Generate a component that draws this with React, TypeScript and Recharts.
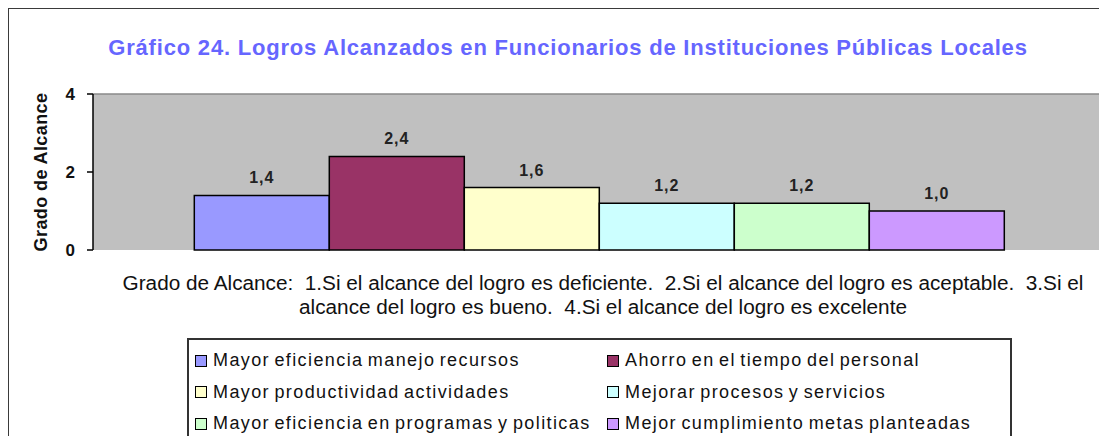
import { Bar, BarChart, CartesianGrid, LabelList, ReferenceLine, XAxis, YAxis } from "recharts";

const categories = ["Logros"];
const seriesNames = [
  "Mayor eficiencia manejo recursos",
  "Ahorro en el tiempo del personal",
  "Mayor productividad actividades",
  "Mejorar procesos y servicios",
  "Mayor eficiencia en programas y politicas",
  "Mejor cumplimiento metas planteadas",
];
const seriesValues = [1.4, 2.4, 1.6, 1.2, 1.2, 1.0];
const seriesColors = ["#9999FF", "#993366", "#FFFFCC", "#CCFFFF", "#CCFFCC", "#CC99FF"];
const yTicks = [0, 2, 4];

const title = "Gráfico 24. Logros Alcanzados en Funcionarios de Instituciones Públicas Locales";
const captionLines = [
  "Grado de Alcance:  1.Si el alcance del logro es deficiente.  2.Si el alcance del logro es aceptable.  3.Si el",
  "alcance del logro es bueno.  4.Si el alcance del logro es excelente",
];

const FONT = "'Liberation Sans', Arial, sans-serif";

const data = categories.map((name) => {
  const row: Record<string, string | number> = { name };
  seriesValues.forEach((v, i) => {
    row["s" + i] = v;
  });
  return row;
});

const fmt = (v: unknown) => Number(v).toFixed(1).replace(".", ",");

function AxisTitle(props: any) {
  const { viewBox } = props;
  const cx = 33;
  const cy = viewBox.y + viewBox.height / 2;
  return (
    <text
      x={cx}
      y={cy}
      transform={`rotate(-90 ${cx} ${cy})`}
      textAnchor="middle"
      dominantBaseline="central"
      fontFamily={FONT}
      fontSize={18}
      fontWeight="bold"
      letterSpacing={0.4}
      fill="#111"
    >
      Grado de Alcance
    </text>
  );
}

export default function App() {
  return (
    <div style={{ position: "relative", width: 1099, height: 428, overflow: "hidden", fontFamily: FONT }}>
      <div
        style={{
          position: "absolute",
          left: -1,
          top: -1,
          width: 1200,
          height: 600,
          border: "2px solid #3a3a3a",
        }}
      />
      <div
        style={{
          position: "absolute",
          left: 0,
          top: 27,
          width: 1120,
          textAlign: "center",
          color: "#6666FF",
          fontSize: 22,
          letterSpacing: 0.8,
          fontWeight: "bold",
          lineHeight: "26px",
        }}
      >
        {title}
      </div>
      <div style={{ position: "absolute", left: 0, top: 0 }}>
        <BarChart
          width={1099}
          height={428}
          data={data}
          margin={{ top: 86, right: 1, left: 0, bottom: 186 }}
          barGap={0}
          barCategoryGap="10%"
        >
          <CartesianGrid horizontal={false} vertical={false} fill="#C0C0C0" />
          <XAxis dataKey="name" height={0} tick={false} tickLine={false} axisLine={{ stroke: "#000", strokeWidth: 1.5 }} />
          <YAxis
            width={85}
            domain={[0, 4]}
            ticks={yTicks}
            tickSize={6}
            tickMargin={12}
            axisLine={{ stroke: "#000", strokeWidth: 1.5 }}
            tickLine={{ stroke: "#000", strokeWidth: 1.5 }}
            tick={{ fontSize: 17, fontWeight: "bold", fill: "#111", fontFamily: FONT }}
            label={<AxisTitle />}
          />
          <ReferenceLine y={4} stroke="#8a8a8a" strokeWidth={1.5} />
          {seriesNames.map((name, i) => (
            <Bar
              key={name}
              dataKey={"s" + i}
              name={name}
              fill={seriesColors[i]}
              stroke="#000"
              strokeWidth={1.5}
              isAnimationActive={false}
            >
              <LabelList
                dataKey={"s" + i}
                position="top"
                offset={12}
                formatter={fmt}
                style={{ fontSize: 16, fontWeight: "bold", letterSpacing: 1, fill: "#222", fontFamily: FONT }}
              />
            </Bar>
          ))}
        </BarChart>
      </div>
      <div
        style={{
          position: "absolute",
          left: 0,
          top: 263,
          width: 1190,
          textAlign: "center",
          fontSize: 20.75,
          lineHeight: "24px",
          color: "#111",
        }}
      >
        {captionLines.map((l) => (
          <div key={l} style={{ whiteSpace: "pre" }}>
            {l}
          </div>
        ))}
      </div>
      <div
        style={{
          position: "absolute",
          left: 179,
          top: 330,
          width: 825,
          height: 200,
          border: "2px solid #333",
          boxSizing: "border-box",
        }}
      >
        {seriesNames.map((name, i) => (
          <div
            key={name}
            style={{
              position: "absolute",
              left: 6 + (i % 2) * 412,
              top: 5 + Math.floor(i / 2) * 31.5,
              height: 31,
              display: "flex",
              alignItems: "center",
              whiteSpace: "nowrap",
              fontSize: 18,
              letterSpacing: 1.4,
              wordSpacing: -2,
              color: "#111",
            }}
          >
            <span
              style={{
                display: "inline-block",
                width: 10,
                height: 10,
                border: "1.5px solid #000",
                background: seriesColors[i],
                marginRight: 6,
              }}
            />
            {name}
          </div>
        ))}
      </div>
    </div>
  );
}
